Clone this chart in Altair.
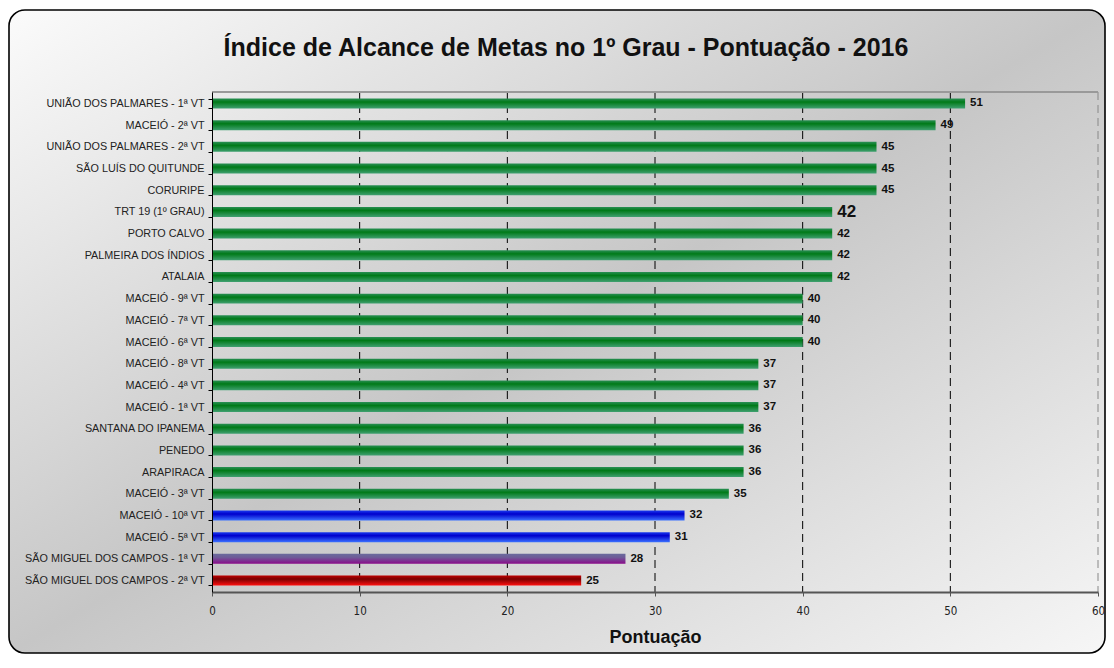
import altair as alt
import pandas as pd

# ---- data ----
categorias = [
    "UNIÃO DOS PALMARES - 1ª VT", "MACEIÓ - 2ª VT", "UNIÃO DOS PALMARES - 2ª VT",
    "SÃO LUÍS DO QUITUNDE", "CORURIPE", "TRT 19 (1º GRAU)", "PORTO CALVO",
    "PALMEIRA DOS ÍNDIOS", "ATALAIA", "MACEIÓ - 9ª VT", "MACEIÓ - 7ª VT",
    "MACEIÓ - 6ª VT", "MACEIÓ - 8ª VT", "MACEIÓ - 4ª VT", "MACEIÓ - 1ª VT",
    "SANTANA DO IPANEMA", "PENEDO", "ARAPIRACA", "MACEIÓ - 3ª VT",
    "MACEIÓ - 10ª VT", "MACEIÓ - 5ª VT", "SÃO MIGUEL DOS CAMPOS - 1ª VT",
    "SÃO MIGUEL DOS CAMPOS - 2ª VT",
]
valores = [51, 49, 45, 45, 45, 42, 42, 42, 42, 40, 40, 40, 37, 37, 37, 36, 36, 36, 35, 32, 31, 28, 25]
grupos = ["verde"] * 19 + ["azul", "azul", "roxo", "vermelho"]
destaque = "TRT 19 (1º GRAU)"
ticks_x = [0, 10, 20, 30, 40, 50, 60]
titulo = "Índice de Alcance de Metas no 1º Grau - Pontuação - 2016"
titulo_x = "Pontuação"

df = pd.DataFrame({"categoria": categorias, "valor": valores, "grupo": grupos})
grid_df = pd.DataFrame({"v": ticks_x[1:]})

W, H = 886, 500
PAD_L = 204
PAD_R = 8
FONT = "Liberation Sans"

x_scale = alt.Scale(domain=[0, 60], nice=False, zero=True)
y_scale = alt.Scale(paddingInner=0.54, paddingOuter=0.3)

x_enc = alt.X(
    "valor:Q", scale=x_scale, title=titulo_x,
    axis=alt.Axis(
        values=ticks_x, grid=False, zindex=1, domainColor="#555555", domainWidth=2,
        tickColor="#555555", tickSize=4, labelPadding=9, labelFontSize=11.5,
        labelFont="'DejaVu Sans Condensed', 'Liberation Sans', sans-serif",
        labelColor="#222222",
        titleFontSize=18, titleFontWeight="bold", titleFont=FONT, titleColor="#111111",
        titlePadding=12, labelFlush=False,
    ),
)
y_enc = alt.Y(
    "categoria:N", sort=categorias, scale=y_scale, title=None,
    axis=alt.Axis(
        zindex=1, domainColor="black", tickColor="black", tickSize=4, tickBand="extent",
        labelPadding=4, labelFontSize=10.8, labelFont=FONT, labelColor="#222222",
        labelLimit=300,
    ),
)

# background rounded frame with diagonal gradient
fundo = alt.Chart(pd.DataFrame({"a": [0]})).mark_rect(
    cornerRadius=16, stroke="black", strokeWidth=1.6,
    fill=alt.Gradient(gradient="linear", x1=0, y1=0, x2=1, y2=1, stops=[
        alt.GradientStop(color="#fbfbfb", offset=0),
        alt.GradientStop(color="#c6c6c6", offset=0.5),
        alt.GradientStop(color="#f6f6f6", offset=1),
    ]),
).encode(x=alt.value(-(PAD_L - 1)), x2=alt.value(W + PAD_R - 1), y=alt.value(-82), y2=alt.value(561))

# top border of plot area
borda = alt.Chart(pd.DataFrame({"a": [0]})).mark_rule(color="#999999", strokeWidth=2).encode(
    x=alt.value(0), x2=alt.value(W), y=alt.value(0)
)

# dashed gridlines
grade = alt.Chart(grid_df).mark_rule(strokeDash=[8, 5], strokeWidth=1).encode(
    x=alt.X("v:Q", scale=x_scale),
    color=alt.condition(alt.datum.v == 60, alt.value("#888888"), alt.value("black")),
)

gradientes = {
    "verde": ["#2a8f55", "#007a18", "#3fa070"],
    "azul": ["#1a3cf0", "#0000cc", "#3a70ff"],
    "roxo": ["#6b6b9c", "#6e5c98", "#8a0a8a"],
    "vermelho": ["#c00000", "#7a0000", "#ff1010"],
}

barras = []
for g, cols in gradientes.items():
    barras.append(
        alt.Chart(df).transform_filter(alt.datum.grupo == g).mark_bar(
            fill=alt.Gradient(gradient="linear", x1=0, y1=0, x2=0, y2=1, stops=[
                alt.GradientStop(color=cols[0], offset=0),
                alt.GradientStop(color=cols[1], offset=0.35),
                alt.GradientStop(color=cols[2], offset=1),
            ])
        ).encode(x=x_enc, y=y_enc)
    )

rotulos = alt.Chart(df).mark_text(
    align="left", baseline="middle", dx=5, fontWeight="bold", font=FONT, color="#111111"
).encode(
    x=alt.X("valor:Q", scale=x_scale),
    y=alt.Y("categoria:N", sort=categorias, scale=y_scale),
    text="valor:Q",
    size=alt.condition(alt.datum.categoria == destaque, alt.value(17), alt.value(11.5)),
)

titulo_mark = alt.Chart(pd.DataFrame({"t": [titulo]})).mark_text(
    fontSize=25, fontWeight="bold", font=FONT, color="#111111",
    align="center", baseline="alphabetic",
).encode(text="t:N", x=alt.value(354), y=alt.value(-36))

chart = alt.layer(fundo, grade, borda, *barras, rotulos, titulo_mark).properties(
    width=W, height=H,
    padding={"left": PAD_L, "top": 84, "right": PAD_R, "bottom": 63},
    autosize=alt.AutoSizeParams(type="none"),
).configure_view(stroke=None).configure(background="white")

chart.save("out.html", embed_options={"renderer": "svg", "actions": False})
